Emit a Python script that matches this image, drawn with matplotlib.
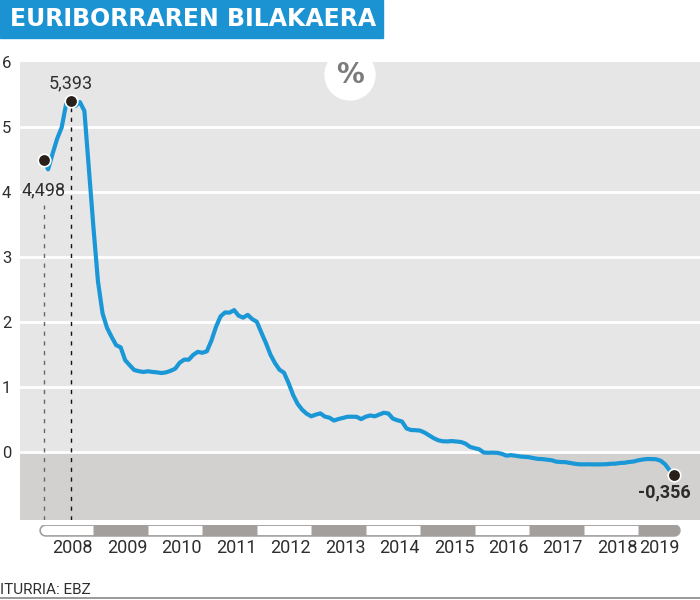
import matplotlib
matplotlib.use('Agg')
import matplotlib.pyplot as plt
from matplotlib.patches import Rectangle, Circle
from matplotlib.lines import Line2D
from matplotlib.transforms import IdentityTransform
import numpy as np

# 12 month euribor, monthly average (%), Jan 2008 - Aug 2019
years = list(range(2008, 2020))
euribor = [
    4.498, 4.349, 4.590, 4.820, 4.994, 5.361, 5.393, 5.323, 5.384, 5.248, 4.350, 3.452,   # 2008
    2.622, 2.135, 1.909, 1.771, 1.644, 1.610, 1.412, 1.334, 1.261, 1.243, 1.231, 1.242,   # 2009
    1.232, 1.225, 1.215, 1.225, 1.249, 1.281, 1.373, 1.421, 1.420, 1.495, 1.541, 1.526,   # 2010
    1.550, 1.714, 1.924, 2.086, 2.147, 2.144, 2.183, 2.097, 2.067, 2.110, 2.044, 2.004,   # 2011
    1.837, 1.678, 1.499, 1.368, 1.266, 1.219, 1.061, 0.877, 0.740, 0.650, 0.588, 0.549,   # 2012
    0.575, 0.594, 0.545, 0.528, 0.484, 0.507, 0.525, 0.542, 0.543, 0.541, 0.506, 0.543,   # 2013
    0.562, 0.549, 0.577, 0.604, 0.592, 0.513, 0.488, 0.469, 0.362, 0.338, 0.335, 0.329,   # 2014
    0.298, 0.255, 0.212, 0.180, 0.165, 0.163, 0.168, 0.161, 0.154, 0.128, 0.079, 0.059,   # 2015
    0.042, -0.008, -0.012, -0.010, -0.013, -0.028, -0.056, -0.048, -0.057, -0.069, -0.074, -0.080,  # 2016
    -0.095, -0.106, -0.110, -0.119, -0.127, -0.149, -0.154, -0.156, -0.168, -0.180, -0.189, -0.190,  # 2017
    -0.189, -0.191, -0.191, -0.190, -0.188, -0.181, -0.180, -0.169, -0.166, -0.154, -0.147, -0.129,  # 2018
    -0.116, -0.108, -0.109, -0.112, -0.134, -0.190, -0.283, -0.356,  # 2019
]
highlight_idx = [0, 6, len(euribor) - 1]   # Jan 2008, Jul 2008, Aug 2019
highlight_lbl = ['4,498', '5,393', '-0,356']
yticks = [0, 1, 2, 3, 4, 5, 6]

BLUE = '#1b93d3'
LINE = '#1a97d6'
DARK = '#2a201a'
NARROW = ['Roboto', 'DejaVu Sans']
TXT = dict(family=NARROW, fontweight='normal', color='#2e2e2e')

t = np.array([2008 + (i + 1) / 12 for i in range(len(euribor))])
v = np.array(euribor)

fig = plt.figure(figsize=(7, 6), dpi=100)

# pixel helpers: 2008 at x=39, 54.45 px per year
x0_t = 2008 - 19 / 54.45
x1_t = 2008 + 661 / 54.45
ymin, ymax = -68 / 65, 6

ax = fig.add_axes([20 / 700, 80 / 600, 680 / 700, 458 / 600])
ax.set_xlim(x0_t, x1_t)
ax.set_ylim(ymin, ymax)
ax.axhspan(0, ymax, color='#e6e6e6', zorder=0)
ax.axhspan(ymin, 0, color='#d3d1cf', zorder=0)
for y in yticks[:-1]:
    ax.axhline(y, color='white', lw=2, zorder=1)
for s in ax.spines.values():
    s.set_visible(False)
ax.set_xticks([])
ax.set_yticks(yticks)
ax.set_yticklabels([str(y) for y in yticks], fontsize=12, **TXT)
for lbl in ax.get_yticklabels():
    lbl.set_horizontalalignment('left')
ax.tick_params(axis='y', length=0, pad=13)

# dashed guides
ax.vlines(t[0], ymin, 3.8, colors='#666666', lw=1, linestyles=(0, (3, 4)), zorder=2)
ax.vlines(t[6], ymin, v[6], colors='#111111', lw=1, linestyles=(0, (3, 4)), zorder=2)

ax.plot(t, v, color=LINE, lw=3, solid_joinstyle='round', zorder=3)
ax.plot(t[highlight_idx], v[highlight_idx], 'o', ms=9, color=DARK,
        mec='white', mew=1.2, zorder=4)

ax.annotate(highlight_lbl[0], (t[0], v[0]), xytext=(0, -31), textcoords='offset pixels',
            ha='center', va='center', fontsize=13, **TXT)
ax.annotate(highlight_lbl[1], (t[6], v[6]), xytext=(0, 18), textcoords='offset pixels',
            ha='center', va='center', fontsize=13, **TXT)
ax.annotate(highlight_lbl[2], (t[-1], v[-1]), xytext=(-10, -17), textcoords='offset pixels',
            ha='center', va='center', family=NARROW, fontsize=13, fontweight='bold',
            color='#2a2a2a')

# year pill axis
pax = fig.add_axes([20 / 700, 45 / 600, 680 / 700, 30 / 600])
pax.set_xlim(x0_t, x1_t)
pax.set_ylim(0, 1)
pax.axis('off')
p_start = 2008 + 6 / 54.45
p_end = 2008 + 635 / 54.45
yc = 0.82
pax.plot([p_start, p_end], [yc, yc], color='#a29f9d', lw=9, solid_capstyle='round')
for yr in years:
    if (yr - 2008) % 2 == 0:
        a = max(yr, p_start)
        pax.plot([a, yr + 1], [yc, yc], color='white', lw=6.6, solid_capstyle='butt')
pax.plot([p_start, p_start + 0.05], [yc, yc], color='white', lw=6.6, solid_capstyle='round')
for yr in years:
    xl = yr + 0.62 if yr < 2019 else (2019 + p_end + 6 / 54.45) / 2
    pax.text(xl, 0.22, str(yr), ha='center', va='center', fontsize=13, **TXT)

# title box
fig.patches.append(Rectangle((0, 562 / 600), 383 / 700, 38 / 600,
                             transform=fig.transFigure, color=BLUE, zorder=0))
fig.text(10 / 700, 581 / 600, 'EURIBORRAREN BILAKAERA', ha='left', va='center',
         color='white', fontsize=17, fontweight='heavy', family='DejaVu Sans')

# percent badge
fig.add_artist(Circle((350, 525), 25, transform=IdentityTransform(),
                      color='white', zorder=5))
fig.text(350 / 700, 525 / 600, '%', ha='center', va='center', color='#7b7b7b',
         fontsize=20, fontweight='bold', zorder=6)

# source
fig.text(0, 10 / 600, 'ITURRIA: EBZ', ha='left', va='center', fontsize=11, **TXT)
fig.add_artist(Line2D([0, 1], [2 / 600, 2 / 600], color='#888888', lw=1.2,
                      transform=fig.transFigure))

fig.savefig('out.png', dpi=100)
